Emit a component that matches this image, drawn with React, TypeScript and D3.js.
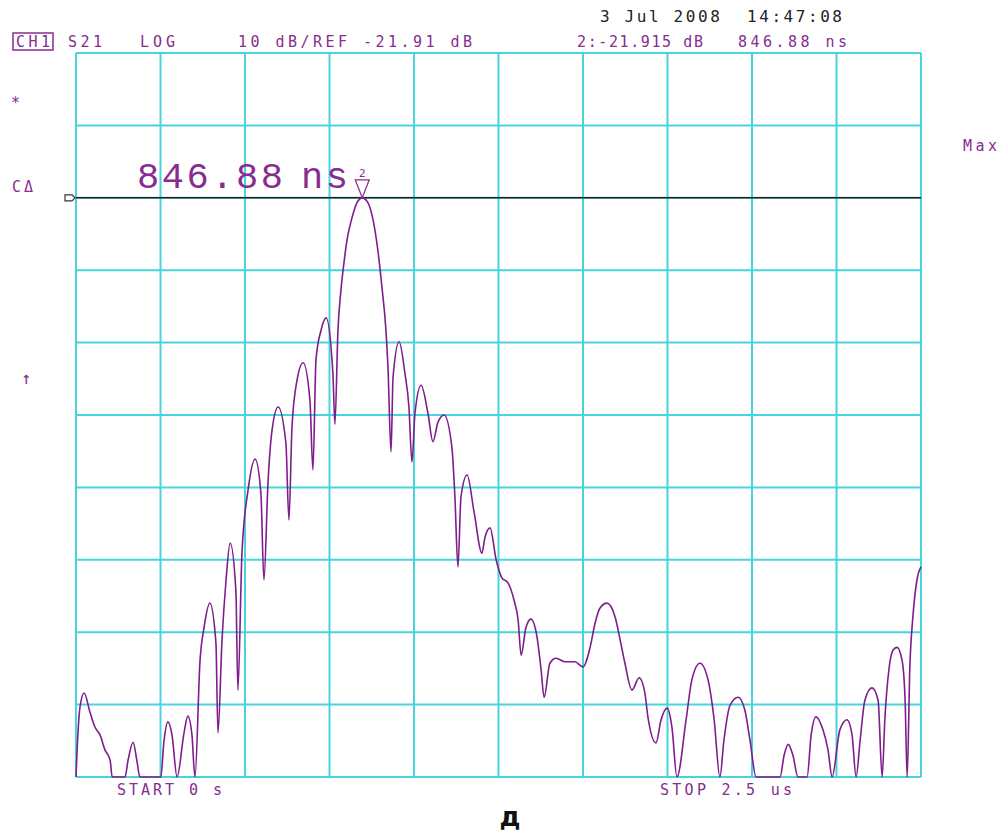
import React from 'react';
import { scaleLinear, line, curveMonotoneX, range } from 'd3';

// trace: time in ns, magnitude in dB
const timeNs = [
  0, 3, 12, 24, 41, 56, 71, 86, 101, 107, 145, 154, 169, 180, 189, 251, 260, 272, 284, 299, 320, 331, 343, 352,
  367, 379, 396, 414, 420, 432, 444, 456, 473, 479, 491, 509, 530, 547, 556, 568,
  580, 598, 621, 630, 639, 654, 672, 692, 701, 710, 725, 740, 760, 766, 775, 784,
  793, 802, 817, 831, 846.88, 864, 879, 894, 905, 917, 923, 932, 938, 956, 973, 985,
  994, 1003, 1021, 1041, 1056, 1071, 1089, 1112, 1121, 1130, 1139, 1157, 1178, 1201,
  1210, 1225, 1243, 1260, 1278, 1296, 1308, 1317, 1331, 1346, 1364, 1376, 1385, 1402,
  1420, 1447, 1476, 1500, 1521, 1536, 1550, 1571, 1595, 1610, 1624, 1645, 1666, 1683,
  1692, 1716, 1731, 1749, 1763, 1778, 1805, 1822, 1846, 1870, 1888, 1905, 1917, 1935,
  1959, 1979, 1994, 2012, 2083, 2095, 2107, 2121, 2136, 2163, 2175, 2189, 2210, 2225,
  2237, 2260, 2281, 2296, 2308, 2320, 2334, 2355, 2373, 2385, 2393, 2405, 2417, 2429,
  2444, 2453, 2459, 2467, 2476, 2488, 2500,
];
const magDb = [
  -101.9, -98.5, -92.2, -90.3, -92.9, -95.0, -96.1, -98.2, -99.6, -101.9, -101.9, -99.6, -97.1, -99.6, -101.9, -101.9, -97.1, -94.3, -96.1, -101.9, -95.7, -93.5, -96.1, -101.9,
  -85.8, -81.2, -77.9, -83.4, -95.8, -83.0, -74.7, -69.6, -76.1, -89.9, -71.0, -62.3, -58.0, -62.7, -74.7, -61.3,
  -54.0, -50.8, -55.8, -66.4, -53.6, -47.1, -44.7, -49.8, -59.5, -44.3, -40.2, -38.5, -46.1, -53.2, -40.2, -34.6,
  -30.8, -27.7, -24.6, -22.6, -21.915, -22.6, -25.0, -29.5, -34.2, -40.2, -45.3, -57.0, -46.7, -41.8, -46.1, -50.8,
  -58.4, -51.6, -47.8, -51.6, -55.6, -52.9, -51.9, -56.3, -63.2, -72.9, -63.2, -60.2, -65.4, -71.0,
  -68.8, -67.5, -71.9, -74.4, -75.1, -77.5, -80.2, -85.1, -81.3, -80.1, -82.6, -87.1, -90.9, -86.2,
  -85.5, -86.0, -86.0, -86.7, -84.0, -80.6, -78.6, -77.9, -79.8, -83.0, -86.2, -89.9, -88.2, -90.3,
  -93.6, -97.2, -94.0, -92.4, -95.0, -101.9, -94.0, -88.5, -86.2, -88.5, -94.0, -101.9, -96.8, -92.0,
  -90.9, -92.7, -96.8, -101.9, -101.9, -98.9, -97.4, -98.9, -101.9, -101.9, -96.1, -93.6, -95.4, -98.2,
  -101.9, -95.4, -94.0, -96.1, -101.9, -96.8, -91.3, -89.6, -91.3, -101.9, -94.0, -87.1, -84.4, -84.0,
  -85.8, -91.3, -101.9, -86.7, -79.8, -74.7, -72.9,
];

const startNs = 0;
const stopNs = 2500;
const refDb = -21.91;
const dbPerDiv = 10;
const refDiv = 8; // reference line sits 8 divisions above the bottom
const markerNs = 846.88;
const markerDb = -21.915;

const GRID = '#46d5de';
const PURPLE = '#862d8e';
const TRACE = '#7e1d8b';
const MONO = '"DejaVu Sans Mono", "Liberation Mono", monospace';

export default function App() {
  const x = scaleLinear().domain([startNs, stopNs]).range([76, 921]);
  const bottomDb = refDb - refDiv * dbPerDiv;
  const y = scaleLinear().domain([bottomDb, bottomDb + 10 * dbPerDiv]).range([777, 53]);

  const vLines = range(0, 11).map((i) => startNs + (i * (stopNs - startNs)) / 10);
  const hLines = range(0, 11).map((i) => bottomDb + i * dbPerDiv);

  const pts = timeNs.map((t, i) => [t, magDb[i]] as [number, number]);
  const trace = line<[number, number]>()
    .x((d) => x(d[0]))
    .y((d) => y(Math.max(bottomDb, d[1])))
    .curve(curveMonotoneX);

  const mx = x(markerNs);
  const my = y(markerDb);

  const txt = (s: string, px: number, py: number, len: number, extra: any = {}) => (
    <text x={px} y={py} textLength={len} lengthAdjust="spacing" fontFamily={MONO} fontSize={15} fill={PURPLE} {...extra}>
      {s}
    </text>
  );

  return (
    <div style={{ position: 'absolute', left: 0, top: 0 }}>
      <svg width={1000} height={831} style={{ display: 'block', background: '#fff' }}>
        {/* grid */}
        {vLines.map((v) => (
          <line key={'v' + v} x1={x(v)} x2={x(v)} y1={y.range()[1]} y2={y.range()[0]} stroke={GRID} strokeWidth={2} />
        ))}
        {hLines.map((h) => (
          <line key={'h' + h} x1={x.range()[0]} x2={x.range()[1]} y1={y(h)} y2={y(h)} stroke={GRID} strokeWidth={2} />
        ))}

        {/* reference line + marker */}
        <line x1={x.range()[0]} x2={x.range()[1]} y1={y(refDb)} y2={y(refDb)} stroke="#222" strokeWidth={1.5} />
        <path d={`M65,${y(refDb) - 3}L72,${y(refDb) - 3}L75,${y(refDb)}L72,${y(refDb) + 3}L65,${y(refDb) + 3}Z`} fill="none" stroke="#333" strokeWidth={1.2} />

        {/* trace */}
        <path d={trace(pts) || ''} fill="none" stroke={TRACE} strokeWidth={1.6} strokeLinejoin="round" />

        {/* marker 2 */}
        <path d={`M${mx - 7},${my - 18}L${mx + 7},${my - 18}L${mx},${my}Z`} fill="none" stroke={PURPLE} strokeWidth={1.2} />
        <text x={mx} y={my - 21} textAnchor="middle" fontFamily={MONO} fontSize={11} fill={PURPLE}>2</text>
        <text x={137} y={my - 10} textLength={146} lengthAdjust="spacing" fontFamily='"Liberation Mono", monospace' fontSize={37} fill={PURPLE}>
          846.88
        </text>
        <text x={301} y={my - 10} textLength={47} lengthAdjust="spacing" fontFamily='"Liberation Mono", monospace' fontSize={37} fill={PURPLE}>
          ns
        </text>

        {/* header */}
        <text x={600} y={22} textLength={120} lengthAdjust="spacing" fontFamily={MONO} fontSize={16} fill="#222">3 Jul 2008</text>
        <text x={747} y={22} textLength={95} lengthAdjust="spacing" fontFamily={MONO} fontSize={16} fill="#222">14:47:08</text>
        <rect x={13} y={33} width={40} height={17} fill="none" stroke={PURPLE} strokeWidth={1.5} />
        {txt('CH1', 16, 47, 34)}
        {txt('S21', 68, 47, 34)}
        {txt('LOG', 140, 47, 35)}
        {txt('10 dB/REF -21.91 dB', 238, 47, 234)}
        {txt('2:-21.915 dB', 577, 47, 126)}
        {txt('846.88 ns', 738, 47, 109)}

        {/* side annotations */}
        {txt('*', 11, 108, 9)}
        {txt('C\u0394', 12, 192, 21, { fontSize: 15 })}
        {txt('\u2191', 21, 384, 11, { fontSize: 17 })}
        {txt('Max', 963, 151, 34)}

        {/* footer */}
        {txt('START 0 s', 117, 795, 105)}
        {txt('STOP 2.5 us', 660, 795, 132)}
        <text x={510} y={826} textAnchor="middle" fontFamily='"DejaVu Sans", sans-serif' fontWeight="bold" fontSize={26} fill="#111">д</text>
      </svg>
    </div>
  );
}
